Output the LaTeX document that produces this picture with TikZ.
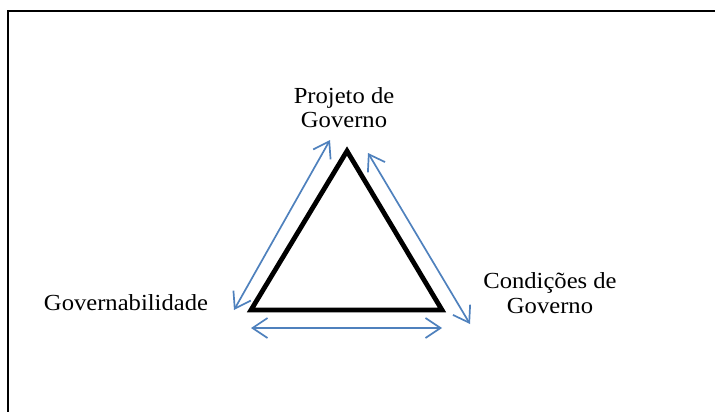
\documentclass[tikz,border=0pt]{standalone}
\usepackage{fontspec}
\setmainfont{Liberation Serif}
\usetikzlibrary{arrows.meta}
\definecolor{arrowblue}{RGB}{79,129,189}
\tikzset{
  lbl/.style={font=\fontsize{23}{25}\selectfont, align=center, inner sep=0pt, xscale=1.07},
  tri/.style={line width=4.8pt, line join=miter, black},
  dbl/.style={arrowblue, line width=1.7pt, {Straight Barb[length=15pt,width=20pt,line width=1.7pt]}-{Straight Barb[length=15pt,width=20pt,line width=1.7pt]}},
  frame/.style={line width=2.6pt, black}
}
\begin{document}
\begin{tikzpicture}[x=1pt,y=-1pt]
\useasboundingbox (0,0) rectangle (715,412);
% frame
\coordinate (fa) at (8,412);
\coordinate (fb) at (8,11);
\coordinate (fc) at (715,11);
\draw[frame] (fa) -- (fb) -- (fc);
% triangle
\coordinate (A) at (347,151);
\coordinate (B) at (251,310);
\coordinate (C) at (442,310);
\draw[tri] (A) -- (B) -- (C) -- cycle;
% labels
\node[lbl, anchor=base] (p1) at (344,103) {Projeto de};
\node[lbl, anchor=base] (p2) at (344,128) {Governo};
\node[lbl, anchor=base] (g) at (126,310) {Governabilidade};
\node[lbl, anchor=base] (c1) at (550,288) {Condições de};
\node[lbl, anchor=base] (c2) at (550,313) {Governo};
% arrows
\coordinate (l1) at (330,140);
\coordinate (l2) at (234,310);
\coordinate (r1) at (368,153);
\coordinate (r2) at (470,324);
\coordinate (b1) at (251,328);
\coordinate (b2) at (442,328);
\draw[dbl] (l1) -- (l2);
\draw[dbl] (r1) -- (r2);
\draw[dbl] (b1) -- (b2);
\end{tikzpicture}
\end{document}
